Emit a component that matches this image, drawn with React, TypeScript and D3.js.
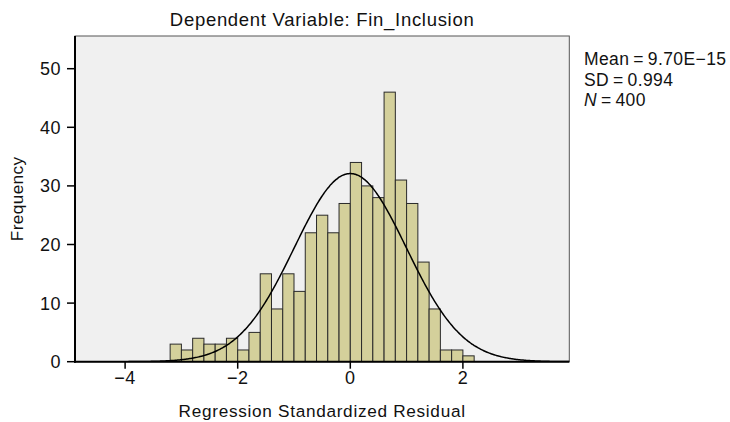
import React from "react";
import * as d3 from "d3";

const binStarts = [-3.2,-3.0,-2.8,-2.6,-2.4,-2.2,-2.0,-1.8,-1.6,-1.4,-1.2,-1.0,-0.8,-0.6,-0.4,-0.2,0.0,0.2,0.4,0.6,0.8,1.0,1.2,1.4,1.6,1.8,2.0];
const counts = [3,2,4,3,3,4,2,5,15,9,15,12,22,25,22,27,34,30,28,46,31,27,17,9,2,2,1];
const binWidth = 0.2;
const xTicks = [-4, -2, 0, 2];
const yTicks = [0, 10, 20, 30, 40, 50];
const mean = 9.7e-15;
const sd = 0.994;
const n = 400;

const W = 730, H = 422;
const left = 75, right = 569.3, top = 36, bottom = 361.7;
const FONT = "Liberation Sans, Arial, Helvetica, sans-serif";

export default function App() {
  const x = d3.scaleLinear().domain([-4.89, 3.89]).range([left, right]);
  const y = d3.scaleLinear().domain([0, 10]).range([bottom, bottom - 58.6]);
  const pts = d3.range(-4.89, 3.895, 0.02).map((v) => [
    v,
    n * binWidth * (1 / (sd * Math.sqrt(2 * Math.PI))) * Math.exp(-0.5 * ((v - mean) / sd) ** 2),
  ]);
  const line = d3.line<number[]>().x((d) => x(d[0])).y((d) => y(d[1])).curve(d3.curveBasis);
  const fmt = (v: number) => (v < 0 ? "\u2212" + Math.abs(v) : String(v));
  return (
    <svg width={W} height={H} style={{ position: "absolute", left: 0, top: 0 }} fontFamily={FONT}>
      <rect x={0} y={0} width={W} height={H} fill="#fff" />
      <text x={(left + right) / 2} y={26} textAnchor="middle" fontSize={18.5} letterSpacing={0.7} fill="#111">
        Dependent Variable: Fin_Inclusion
      </text>
      <rect x={left} y={top} width={right - left} height={bottom - top} fill="#f0f0f0" stroke="#555" strokeWidth={1} />
      <g clipPath="url(#clip)">
        {counts.map((c, i) => (
          <rect
            key={i}
            x={x(binStarts[i])}
            y={y(c)}
            width={x(binStarts[i] + binWidth) - x(binStarts[i])}
            height={y(0) - y(c)}
            fill="#d4d09b"
            stroke="#2a2a2a"
            strokeWidth={1}
          />
        ))}
        <path d={line(pts) || ""} fill="none" stroke="#000" strokeWidth={1.5} />
      </g>
      <defs>
        <clipPath id="clip">
          <rect x={left} y={top} width={right - left} height={bottom - top} />
        </clipPath>
      </defs>
      <line x1={left} x2={left} y1={top} y2={bottom + 1} stroke="#000" strokeWidth={2} />
      <line x1={left - 1} x2={right} y1={bottom} y2={bottom} stroke="#000" strokeWidth={2} />
      {yTicks.map((t) => (
        <g key={t}>
          <line x1={left - 8} x2={left} y1={y(t)} y2={y(t)} stroke="#000" strokeWidth={1.5} />
          <text x={left - 14} y={y(t) + 6.5} textAnchor="end" fontSize={18} letterSpacing={0.5} fill="#111">
            {fmt(t)}
          </text>
        </g>
      ))}
      {xTicks.map((t) => (
        <g key={t}>
          <line x1={x(t)} x2={x(t)} y1={bottom} y2={bottom + 7} stroke="#000" strokeWidth={1.5} />
          <text x={x(t)} y={384} textAnchor="middle" fontSize={18} letterSpacing={0.5} fill="#111">
            {fmt(t)}
          </text>
        </g>
      ))}
      <text x={(left + right) / 2} y={417} textAnchor="middle" fontSize={17.2} letterSpacing={0.7} fill="#111">
        Regression Standardized Residual
      </text>
      <text transform={`translate(23,${(top + bottom) / 2}) rotate(-90)`} textAnchor="middle" fontSize={17.2} letterSpacing={0.4} fill="#111">
        Frequency
      </text>
      <g fontSize={17.5} letterSpacing={0.4} fill="#111">
        <text x={584} y={65}>Mean{"\u2009=\u2009"}9.70E{"\u2212"}15</text>
        <text x={584} y={85.5}>SD{"\u2009=\u2009"}0.994</text>
        <text x={584} y={106}>
          <tspan fontStyle="italic">N</tspan>
          {"\u2009=\u2009"}400
        </text>
      </g>
    </svg>
  );
}
